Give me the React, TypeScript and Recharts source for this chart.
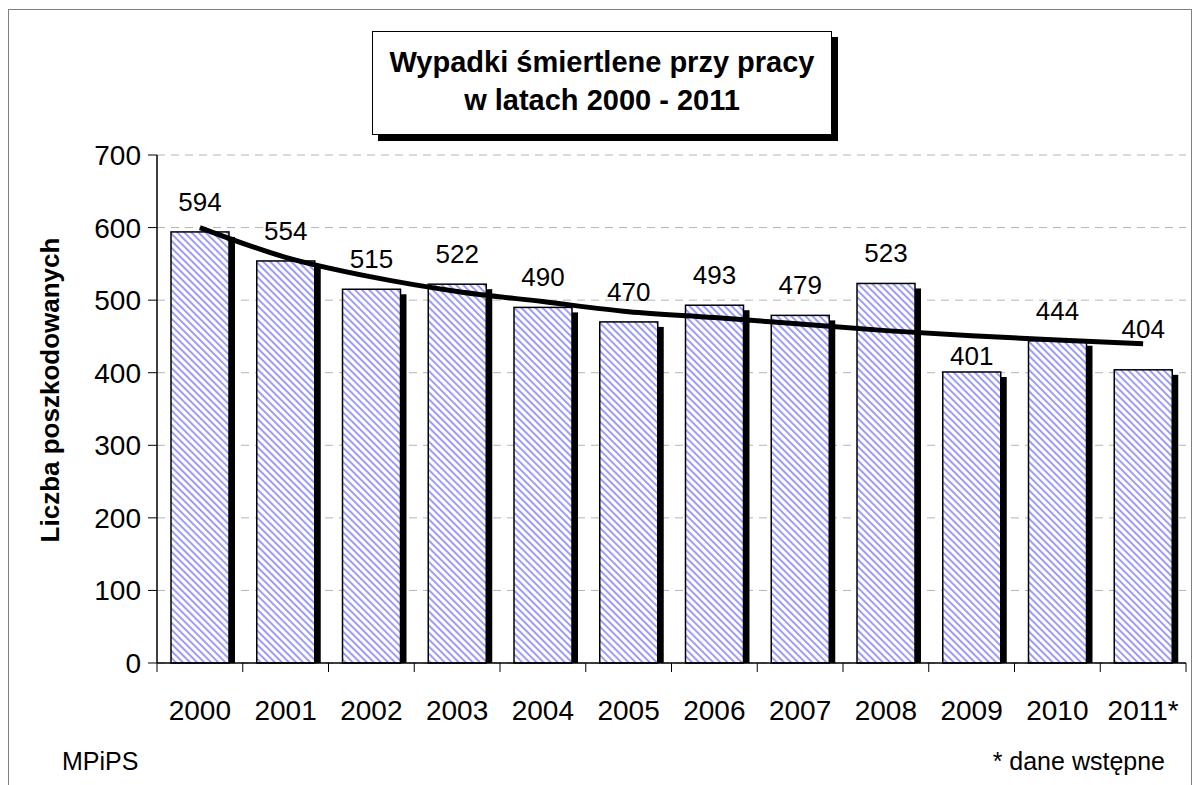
import React from "react"
import {
  ComposedChart,
  Bar,
  Line,
  XAxis,
  YAxis,
  CartesianGrid,
  LabelList,
} from "recharts"

const years = ["2000", "2001", "2002", "2003", "2004", "2005", "2006", "2007", "2008", "2009", "2010", "2011*"]
const fatalities = [594, 554, 515, 522, 490, 470, 493, 479, 523, 401, 444, 404]
// trend line
const trend = [600, 559, 532, 512, 498, 484, 476, 467, 458, 451, 445, 440]
const yTicks = [0, 100, 200, 300, 400, 500, 600, 700]

// a couple of labels were moved by hand in the original
const labelNudge: Record<number, number> = { 9: 14, 11: -11 }

const data = years.map((year, i) => ({ year, value: fatalities[i], trend: trend[i] }))

const FONT = '"Liberation Sans", Arial, sans-serif'
const CHART_W = 1184
const CHART_H = 777
const MARGIN = { top: 147, right: 6, left: 0, bottom: 62 }
const Y_AXIS_W = 149
const PLOT_W = CHART_W - MARGIN.left - MARGIN.right - Y_AXIS_W
const HALF_BAND = PLOT_W / years.length / 2

function ShadowBar(props: any) {
  const { x, y, width, height } = props
  if (!height || height <= 0) return null
  return (
    <g>
      <rect x={x + 6} y={y + 5} width={width} height={Math.max(height - 5, 0)} fill="#000" />
      <rect x={x} y={y} width={width} height={height} fill="url(#stripes)" stroke="#000" strokeWidth={1.5} />
    </g>
  )
}

function YearTick(props: any) {
  const { x, y, payload, index } = props
  const last = index === years.length - 1
  return (
    <g>
      <line x1={x - HALF_BAND} y1={y} x2={x - HALF_BAND} y2={y + 9} stroke="#000" />
      {last && <line x1={x + HALF_BAND} y1={y} x2={x + HALF_BAND} y2={y + 9} stroke="#000" />}
      <text x={x} y={y + 57} textAnchor="middle" fontSize={28} fontFamily={FONT} fill="#000">
        {payload.value}
      </text>
    </g>
  )
}

function ValueLabel(props: any) {
  const { x, y, width, value, index } = props
  return (
    <text
      x={x + width / 2}
      y={y - 21 + (labelNudge[index] || 0)}
      textAnchor="middle"
      fontSize={26}
      fontFamily={FONT}
      fill="#000"
    >
      {value}
    </text>
  )
}

function AxisTitle() {
  const cx = 51
  const cy = 382
  return (
    <text
      x={cx}
      y={cy}
      transform={`rotate(-90, ${cx}, ${cy})`}
      textAnchor="middle"
      fontSize={26}
      fontWeight="bold"
      fontFamily={FONT}
      fill="#000"
    >
      Liczba poszkodowanych
    </text>
  )
}

export default function App() {
  return (
    <div style={{ position: "relative", width: CHART_W, height: CHART_H, fontFamily: FONT }}>
      <svg width="0" height="0" style={{ position: "absolute" }}>
        <defs>
          <pattern id="stripes" width="5" height="5" patternUnits="userSpaceOnUse" patternTransform="rotate(-45)">
            <rect width="5" height="5" fill="#fff" />
            <rect width="2" height="5" fill="#9c9cff" />
          </pattern>
        </defs>
      </svg>

      {/* outer frame */}
      <div
        style={{
          position: "absolute",
          left: 0,
          top: 1,
          width: CHART_W - 2,
          height: 820,
          border: "1px solid #808080",
          borderBottom: "none",
        }}
      />

      <ComposedChart width={CHART_W} height={CHART_H} data={data} margin={MARGIN} style={{ position: "absolute", left: 0, top: 0 }}>
        <CartesianGrid vertical={false} stroke="#b4b4b4" strokeDasharray="8 6" />
        <XAxis
          dataKey="year"
          tickLine={false}
          tickSize={0}
          tickMargin={0}
          height={60}
          axisLine={{ stroke: "#000", strokeWidth: 1.5 }}
          tick={<YearTick />}
          interval={0}
        />
        <YAxis
          domain={[0, 700]}
          ticks={yTicks}
          width={Y_AXIS_W}
          tickSize={9}
          tickMargin={7}
          axisLine={{ stroke: "#000", strokeWidth: 1.5 }}
          tickLine={{ stroke: "#000" }}
          tick={{ fontSize: 28, fontFamily: FONT, fill: "#000" }}
          label={<AxisTitle />}
        />
        <Bar dataKey="value" barSize={58} shape={<ShadowBar />} isAnimationActive={false}>
          <LabelList dataKey="value" content={<ValueLabel />} />
        </Bar>
        <Line dataKey="trend" type="monotone" stroke="#000" strokeWidth={5} dot={false} isAnimationActive={false} />
      </ComposedChart>

      {/* title box */}
      <div
        style={{
          position: "absolute",
          left: 364,
          top: 23,
          width: 460,
          height: 104,
          border: "1.5px solid #000",
          boxShadow: "6px 6px 0 #000",
          background: "#fff",
          textAlign: "center",
          fontWeight: "bold",
          fontSize: 29,
          lineHeight: "38px",
          paddingTop: 11,
          boxSizing: "border-box",
          whiteSpace: "nowrap",
        }}
      >
        Wypadki śmiertlene przy pracy
        <br />
        w latach 2000 - 2011
      </div>

      <div style={{ position: "absolute", left: 54, top: 739, fontSize: 25 }}>MPiPS</div>
      <div style={{ position: "absolute", right: 27, top: 739, fontSize: 25 }}>* dane wstępne</div>
    </div>
  )
}
